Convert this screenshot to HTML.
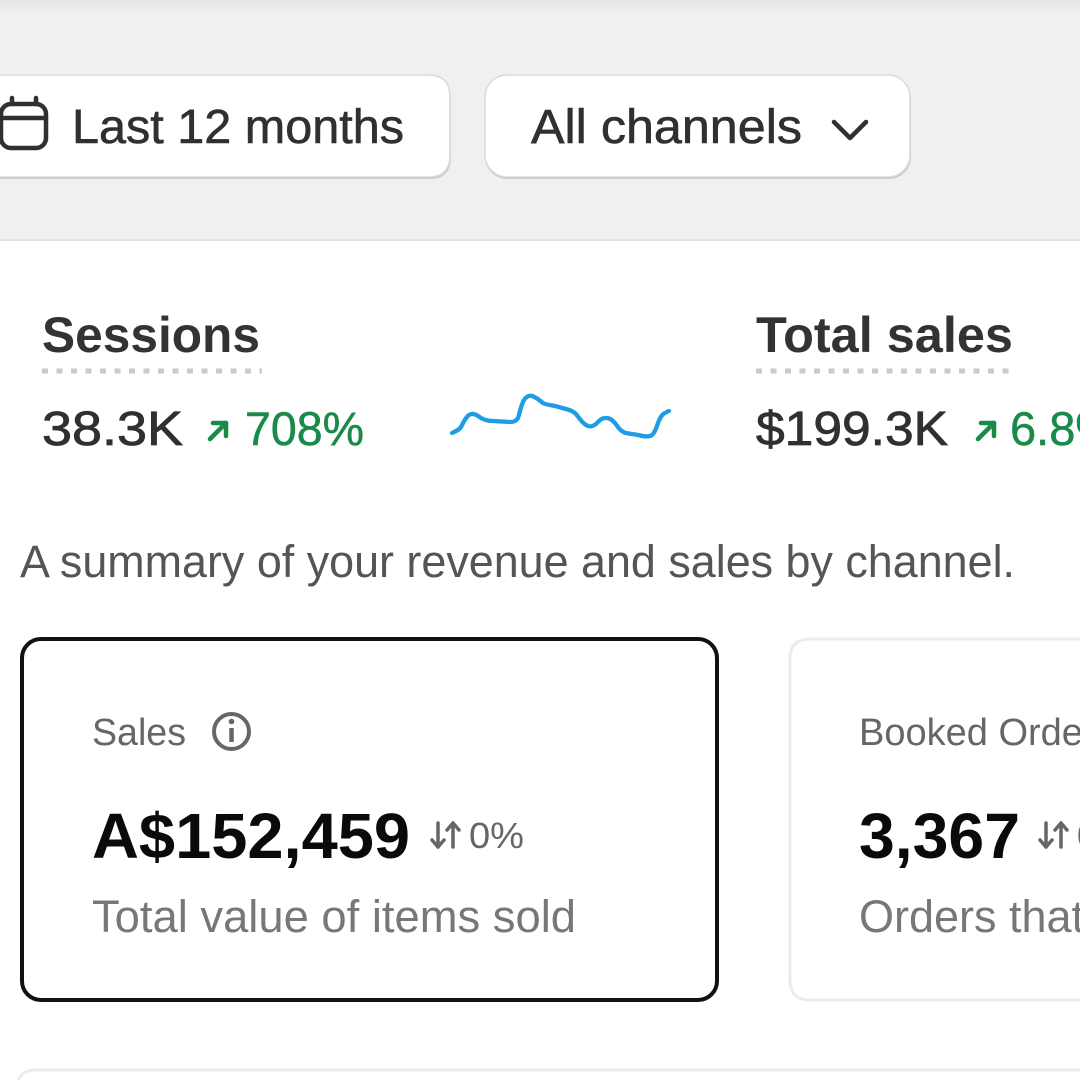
<!DOCTYPE html>
<html>
<head>
<meta charset="utf-8">
<style>
  html,body{margin:0;padding:0;background:#fff;}
  body{width:1080px;height:1080px;overflow:hidden;}
  svg{display:block;overflow:hidden;}
  text{font-family:"Liberation Sans", Arial, sans-serif;}
</style>
</head>
<body>
<svg width="1080" height="1080" viewBox="0 0 1080 1080" xmlns="http://www.w3.org/2000/svg">
  <defs>
    <linearGradient id="topg" x1="0" y1="0" x2="0" y2="1">
      <stop offset="0" stop-color="#e6e6e6"/>
      <stop offset="1" stop-color="#f0f0f0"/>
    </linearGradient>
  </defs>

  <rect x="0" y="0" width="1080" height="1080" fill="#ffffff"/>
  <rect x="0" y="0" width="1080" height="241" fill="#f0f0f0"/>
  <rect x="0" y="0" width="1080" height="16" fill="url(#topg)"/>
  <rect x="0" y="239" width="1080" height="2" fill="#e2e2e2"/>

  <!-- Button 1 -->
  <path d="M0,79 L429,79 Q451,79 451,101 L451,157 Q451,179 429,179 L0,179 Z" fill="#c9c9c9"/>
  <path d="M0,75 L428,75 Q450,75 450,97 L450,155 Q450,177 428,177 L0,177" fill="#ffffff" stroke="#dadada" stroke-width="1.5"/>
  <g fill="none" stroke="#303030" stroke-width="4.5" stroke-linecap="round" stroke-linejoin="round">
    <rect x="1" y="104" width="45" height="44" rx="10"/>
    <line x1="1" y1="118" x2="46" y2="118"/>
    <line x1="12" y1="98" x2="12" y2="104"/>
    <line x1="36" y1="98" x2="36" y2="104"/>
  </g>
  <text x="72" y="143" font-size="48" fill="#303030" stroke="#303030" stroke-width="0.6" textLength="332" lengthAdjust="spacingAndGlyphs">Last 12 months</text>

  <!-- Button 2 -->
  <rect x="485" y="77" width="426" height="102" rx="22" fill="#c9c9c9"/>
  <rect x="485" y="75" width="425" height="102" rx="22" fill="#ffffff" stroke="#dadada" stroke-width="1.5"/>
  <text x="531" y="143" font-size="48" fill="#303030" stroke="#303030" stroke-width="0.6" textLength="271" lengthAdjust="spacingAndGlyphs">All channels</text>
  <polyline points="834,122 850,138 866,122" fill="none" stroke="#303030" stroke-width="4.5" stroke-linecap="round" stroke-linejoin="round"/>

  <!-- Sessions -->
  <text x="42" y="352" font-size="50" font-weight="bold" fill="#333333" textLength="218" lengthAdjust="spacingAndGlyphs">Sessions</text>
  <line x1="42" y1="371" x2="262" y2="371" stroke="#cacaca" stroke-width="5" stroke-dasharray="6 8.5"/>
  <text x="42" y="445" font-size="48" fill="#303030" stroke="#303030" stroke-width="0.8" textLength="141" lengthAdjust="spacingAndGlyphs">38.3K</text>
  <g stroke="#1a8a4a" stroke-width="4.5" fill="none" stroke-linecap="round" stroke-linejoin="round">
    <line x1="210" y1="439" x2="226" y2="423"/>
    <polyline points="213,423 226,423 226,436"/>
  </g>
  <text x="245" y="445" font-size="47" fill="#1a8a4a" stroke="#1a8a4a" stroke-width="0.5" textLength="119" lengthAdjust="spacingAndGlyphs">708%</text>

  <!-- sparkline -->
  <path d="M452,433 C456,431 459,430 461,427 C463,423 465,418 469,415 C472,413 475,414 478,416 C482,419 486,421 493,421 L510,422 C514,422 516,421 518,418 C520,412 521,405 524,400 C526,397 529,395 532,396 C536,397 539,400 543,403 C547,405 551,405 555,406 C559,407 562,408 566,409 C570,410 573,411 576,414 C580,419 583,424 588,426 C591,427 593,426 596,424 C599,421 601,418 606,418 C610,418 612,420 615,423 C618,427 621,432 626,433 C630,434 634,434 638,435 C642,436 646,437 650,436 C654,435 656,429 658,423 C660,418 662,414 665,413 C667,412 668,411 669,411" fill="none" stroke="#1e9de6" stroke-width="4.3" stroke-linecap="round" stroke-linejoin="round"/>

  <!-- Total sales -->
  <text x="756" y="352" font-size="50" font-weight="bold" fill="#333333" textLength="257" lengthAdjust="spacingAndGlyphs">Total sales</text>
  <line x1="756" y1="371" x2="1016" y2="371" stroke="#cacaca" stroke-width="5" stroke-dasharray="6 8.5"/>
  <text x="756" y="445" font-size="48" fill="#303030" stroke="#303030" stroke-width="0.8" textLength="192" lengthAdjust="spacingAndGlyphs">$199.3K</text>
  <g stroke="#1a8a4a" stroke-width="4.5" fill="none" stroke-linecap="round" stroke-linejoin="round">
    <line x1="978" y1="439" x2="994" y2="423"/>
    <polyline points="981,423 994,423 994,436"/>
  </g>
  <text x="1010" y="445" font-size="47" fill="#1a8a4a" stroke="#1a8a4a" stroke-width="0.5">6.8%</text>

  <!-- summary -->
  <text x="20" y="577" font-size="45" fill="#555555" textLength="995" lengthAdjust="spacingAndGlyphs">A summary of your revenue and sales by channel.</text>

  <!-- Card 1 -->
  <rect x="22" y="639" width="695" height="361" rx="19" fill="#ffffff" stroke="#111111" stroke-width="4"/>
  <text x="92" y="745" font-size="38" fill="#666666" textLength="94" lengthAdjust="spacingAndGlyphs">Sales</text>
  <g stroke="#666666" fill="none">
    <circle cx="231.5" cy="731.5" r="17.5" stroke-width="4"/>
    <line x1="231.5" y1="728" x2="231.5" y2="742" stroke-width="4.5"/>
  </g>
  <circle cx="231.5" cy="721.5" r="2.8" fill="#666666"/>
  <text x="92" y="858" font-size="64" font-weight="bold" fill="#0a0a0a" textLength="318" lengthAdjust="spacingAndGlyphs">A$152,459</text>
  <g stroke="#666666" stroke-width="3.5" fill="none" stroke-linecap="round" stroke-linejoin="round">
    <line x1="438" y1="823" x2="438" y2="847"/>
    <polyline points="432,840 438,847 444,840"/>
    <line x1="453" y1="823" x2="453" y2="847"/>
    <polyline points="447,830 453,823 459,830"/>
  </g>
  <text x="469" y="848" font-size="36" fill="#666666" textLength="55" lengthAdjust="spacingAndGlyphs">0%</text>
  <text x="92" y="932" font-size="45" fill="#777777" textLength="484" lengthAdjust="spacingAndGlyphs">Total value of items sold</text>

  <!-- Card 2 -->
  <path d="M1080,639 L810,639 Q790,639 790,659 L790,980 Q790,1000 810,1000 L1080,1000" fill="#ffffff" stroke="#ececec" stroke-width="3"/>
  <text x="859" y="745" font-size="38" fill="#666666">Booked Orders</text>
  <text x="859" y="858" font-size="64" font-weight="bold" fill="#0a0a0a" textLength="161" lengthAdjust="spacingAndGlyphs">3,367</text>
  <g stroke="#666666" stroke-width="3.5" fill="none" stroke-linecap="round" stroke-linejoin="round">
    <line x1="1046" y1="823" x2="1046" y2="847"/>
    <polyline points="1040,840 1046,847 1052,840"/>
    <line x1="1061" y1="823" x2="1061" y2="847"/>
    <polyline points="1055,830 1061,823 1067,830"/>
  </g>
  <text x="1077" y="848" font-size="36" fill="#666666">0%</text>
  <text x="859" y="932" font-size="45" fill="#777777">Orders that</text>

  <!-- bottom card hint -->
  <path d="M17,1080 L17,1088 Q17,1070 37,1070 L1080,1070" fill="none" stroke="#ececec" stroke-width="3"/>
</svg>
</body>
</html>
